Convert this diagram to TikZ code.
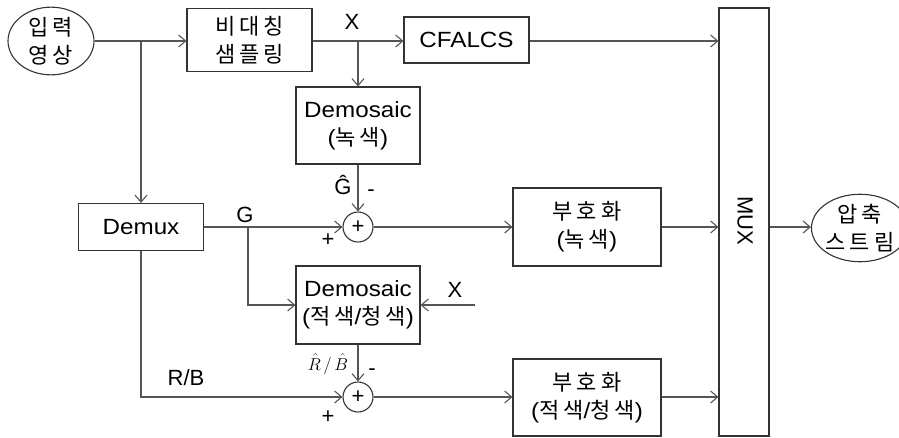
\documentclass[tikz,border=0pt]{standalone}
\usepackage{fontspec}
\setmainfont{Liberation Sans}
\newfontfamily\wide[FakeStretch=1.1]{Liberation Sans}
\newfontfamily\kr[LetterSpace=18]{Noto Sans CJK KR}
\usetikzlibrary{arrows.meta,shapes.geometric}
\definecolor{linec}{HTML}{555555}
\definecolor{boxc}{HTML}{333333}
\tikzset{
  txt/.style={font=\fontsize{22}{28}\selectfont\wide, inner sep=0pt, align=center},
  kor/.style={font=\fontsize{22}{28}\selectfont\kr, inner sep=0pt, align=center},
  box/.style={draw=boxc, line width=1.1pt, rectangle},
  ell/.style={draw=boxc, line width=1.1pt, ellipse},
  sumc/.style={draw=boxc, line width=1.1pt, circle, minimum size=30pt, inner sep=0pt, font=\fontsize{22}{28}\selectfont},
  conn/.style={draw=linec, line width=1.1pt, -{Straight Barb[length=7pt,width=12pt,line width=1.1pt]}},
  lbl/.style={font=\fontsize{22}{28}\selectfont, inner sep=0pt}
}
\begin{document}
\begin{tikzpicture}[x=1pt,y=-1pt]
\useasboundingbox (0,0) rectangle (899,437);
% nodes
\node[ell, kor, minimum width=86pt, minimum height=63pt] (in) at (51,41) {입력\\영상};
\node[box, kor, minimum width=125pt, minimum height=63pt] (asym) at (249.5,40) {비대칭\\샘플링};
\node[box, txt, minimum width=125pt, minimum height=46pt] (cf) at (466.5,40) {CFALCS};
\node[box, txt, minimum width=124pt, minimum height=77pt] (dem1) at (358,125.5) {Demosaic\\({\kr 녹색})};
\node[box, txt, minimum width=125pt, minimum height=47pt] (demux) at (141,227) {Demux};
\node[sumc] (c1) at (358,227) {+};
\node[box, txt, minimum width=124pt, minimum height=78pt] (dem2) at (358,305) {Demosaic\\({\kr 적색}/{\kr 청색})};
\node[sumc] (c2) at (358,397) {+};
\node[box, kor, minimum width=148pt, minimum height=78pt] (enc1) at (587,227) {부호화\\{\wide(}녹색{\wide)}};
\node[box, kor, minimum width=148pt, minimum height=77pt] (enc2) at (587,397.5) {부호화\\{\wide(}적색{\wide/}청색{\wide)}};
\node[box, minimum width=50pt, minimum height=428pt] (mux) at (744,222) {};
\node[lbl, rotate=-90] (muxt) at (745,221) {MUX};
\node[ell, kor, minimum width=79pt, minimum height=66pt] (out) at (860,228) {압축\\스트림};
% coordinates
\coordinate (b1) at (141,41);
\coordinate (bx) at (358,41);
\coordinate (bg) at (248,227);
\coordinate (xin) at (475,305);
% connectors
\draw[conn] (in.east |- b1) -- (asym.west |- b1);
\draw[conn] (b1) -- (demux.north);
\draw[conn] (asym.east |- b1) -- (cf.west |- b1);
\draw[conn] (bx) -- (dem1.north);
\draw[conn] (cf.east |- b1) -- (mux.west |- b1);
\draw[conn] (dem1.south) -- (c1.north);
\draw[conn] (demux.east |- c1) -- (c1.west);
\draw[conn] (bg) |- (dem2.west);
\draw[conn] (xin) -- (dem2.east);
\draw[conn] (dem2.south) -- (c2.north);
\draw[conn] (demux.south) |- (c2.west);
\draw[conn] (c1.east) -- (enc1.west |- c1);
\draw[conn] (enc1.east |- c1) -- (mux.west |- c1);
\draw[conn] (c2.east) -- (enc2.west |- c2);
\draw[conn] (enc2.east |- c2) -- (mux.west |- c2);
\draw[conn] (mux.east |- c1) -- (out.west |- c1);
% labels
\node[lbl] (lx1) at (352,22) {X};
\node[lbl] (lg) at (245,215) {G};
\node[lbl] (lgh) at (343,185) {Ĝ};
\node[lbl] (lm1) at (371,193) {-};
\node[lbl] (lp1) at (328,240) {+};
\node[lbl, font=\fontsize{17}{22}\selectfont] (lrb) at (328,364) {$\hat{R}\,/\,\hat{B}$};
\node[lbl] (lm2) at (372,372) {-};
\node[lbl] (lp2) at (328,417) {+};
\node[lbl] (lrbt) at (186,378) {R/B};
\node[lbl] (lx2) at (455,290) {X};
\end{tikzpicture}
\end{document}
